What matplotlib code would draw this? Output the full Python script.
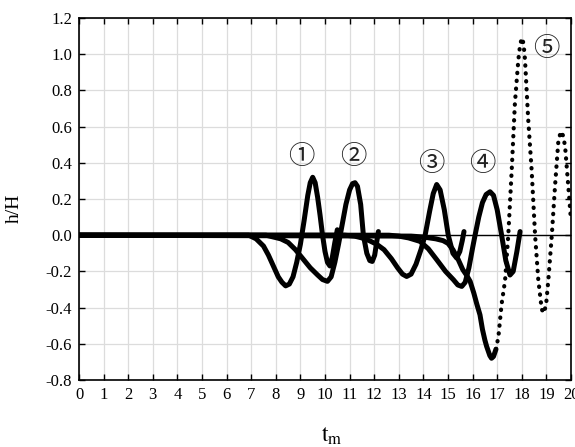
import matplotlib
matplotlib.use("Agg")
import matplotlib.pyplot as plt
from matplotlib.ticker import FormatStrFormatter

plt.rcParams['axes.unicode_minus'] = False
plt.rcParams['mathtext.fontset'] = 'stix'

# ---- data ----
t1 = [0, 6.9, 7.2, 7.5, 7.7, 7.9, 8.1, 8.25, 8.4, 8.55, 8.7, 8.85, 9.0, 9.15, 9.3, 9.4, 9.5,
      9.6, 9.7, 9.8, 9.9, 10.0, 10.1, 10.2, 10.3, 10.4, 10.5]
h1 = [0, 0, -0.02, -0.06, -0.11, -0.17, -0.23, -0.26, -0.28, -0.27, -0.23, -0.15, -0.05, 0.08,
      0.22, 0.29, 0.32, 0.29, 0.21, 0.11, 0.0, -0.09, -0.15, -0.17, -0.12, -0.04, 0.03]

t2 = [0, 7.6, 7.9, 8.2, 8.5, 8.8, 9.1, 9.4, 9.7, 9.9, 10.1, 10.25, 10.4, 10.55, 10.7, 10.85,
      11.0, 11.12, 11.22, 11.32, 11.45, 11.56, 11.7, 11.82, 11.92, 12.02, 12.1, 12.17]
h2 = [0, 0, -0.01, -0.02, -0.04, -0.08, -0.13, -0.18, -0.22, -0.245, -0.255, -0.23, -0.15,
      -0.05, 0.06, 0.17, 0.25, 0.285, 0.29, 0.27, 0.17, 0.0, -0.10, -0.14, -0.145, -0.11,
      -0.04, 0.02]

t3 = [0, 10.8, 11.2, 11.5, 11.8, 12.1, 12.4, 12.7, 12.95, 13.15, 13.32, 13.5, 13.7, 13.9,
      14.07, 14.25, 14.4, 14.54, 14.68, 14.85, 15.01, 15.2, 15.35, 15.48, 15.58, 15.65]
h3 = [0, 0, -0.005, -0.015, -0.03, -0.05, -0.08, -0.13, -0.18, -0.215, -0.228, -0.215, -0.16,
      -0.08, 0.0, 0.13, 0.23, 0.28, 0.25, 0.14, 0.0, -0.10, -0.126, -0.09, -0.03, 0.02]

t4 = [0, 12.6, 13.0, 13.4, 13.86, 14.2, 14.54, 14.9, 15.22, 15.4, 15.56, 15.7, 15.85, 16.0,
      16.1, 16.25, 16.4, 16.55, 16.71, 16.85, 17.0, 17.18, 17.35, 17.52, 17.65, 17.8, 17.93]
h4 = [0, 0, -0.005, -0.015, -0.034, -0.075, -0.135, -0.20, -0.246, -0.275, -0.283, -0.26,
      -0.18, -0.07, 0.0, 0.10, 0.18, 0.225, 0.24, 0.22, 0.14, 0.0, -0.14, -0.22, -0.20, -0.09,
      0.02]

# gauge 5: slow (dense) part and fast (sparse triangles) part
t5a = [0, 13.5, 14.0, 14.5, 14.8, 15.0, 15.2, 15.4, 15.6, 15.75, 15.9, 16.05, 16.17, 16.3,
       16.4, 16.5, 16.57, 16.7, 16.77, 16.85, 16.95]
h5a = [0, -0.005, -0.01, -0.02, -0.03, -0.045, -0.08, -0.13, -0.19, -0.22, -0.255, -0.32,
       -0.38, -0.44, -0.52, -0.58, -0.614, -0.665, -0.68, -0.67, -0.63]
t5b = [16.95, 17.05, 17.18, 17.32, 17.45, 17.59, 17.72, 17.86, 17.93, 18.0, 18.07, 18.13,
       18.26, 18.4, 18.54, 18.67, 18.81, 18.9, 18.99, 19.08, 19.22, 19.35, 19.48, 19.58,
       19.68, 19.76, 19.89, 20.0]
h5b = [-0.63, -0.56, -0.38, -0.25, 0.0, 0.36, 0.73, 0.97, 1.05, 1.09, 1.06, 0.97, 0.64, 0.36,
       0.0, -0.246, -0.41, -0.43, -0.38, -0.246, 0.0, 0.27, 0.51, 0.573, 0.55, 0.49, 0.27, 0.08]

labels = ['①', '②', '③', '④', '⑤']
label_t = [9.02, 11.14, 14.31, 16.38, 19.0]
label_h = [0.434, 0.434, 0.395, 0.395, 1.034]

xticks = list(range(0, 21))
yticks = [-0.8, -0.6, -0.4, -0.2, 0.0, 0.2, 0.4, 0.6, 0.8, 1.0, 1.2]

# ---- figure ----
fig = plt.figure(figsize=(5.75, 4.47), dpi=100)
ax = fig.add_axes([79/575, 1-380/447, (571-79)/575, (380-18)/447])

ax.axhline(0, color='black', lw=1.0, zorder=2)
for tt, hh in [(t1, h1), (t2, h2), (t3, h3), (t4, h4), (t5a, h5a)]:
    ax.plot(tt, hh, color='black', lw=3.6, solid_joinstyle='round',
            solid_capstyle='round', zorder=3)
ax.plot(t5b, h5b, color='black', lw=3.0, linestyle=(0, (0.1, 1.8)),
        dash_capstyle='round', zorder=3)

for s, x, y in zip(labels, label_t, label_h):
    ax.text(x, y, s, ha='center', va='center', fontsize=19, color='#222222',
            family=['Noto Sans CJK SC', 'DejaVu Sans'], zorder=4)

ax.set_xlim(0, 20)
ax.set_ylim(-0.8, 1.2)
ax.set_xticks(xticks)
ax.set_yticks(yticks)
ax.yaxis.set_major_formatter(FormatStrFormatter('%.1f'))
ax.grid(True, color='#dcdcdc', lw=0.9, zorder=0)
ax.set_axisbelow(True)
ax.tick_params(direction='in', length=4, width=1.0, top=True, right=True,
               labelsize=12, pad=5)
for lab in ax.get_xticklabels() + ax.get_yticklabels():
    lab.set_family('Liberation Serif')
for sp in ax.spines.values():
    sp.set_linewidth(1.2)

fig.text(14/575, 1-208/447, 'h/H', rotation=90, ha='center', va='center',
         fontsize=14, family='Liberation Serif')
fig.text(332/575, 1-435/447, r'$\mathrm{t_m}$', ha='center', va='center',
         fontsize=17)

fig.savefig('out.png', dpi=100)
